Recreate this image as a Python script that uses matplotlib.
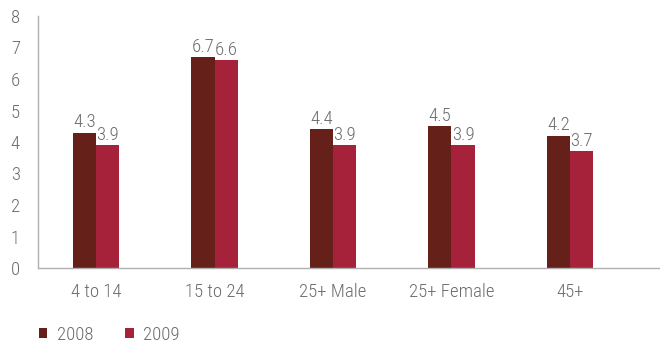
import matplotlib
matplotlib.use("Agg")
import matplotlib.pyplot as plt
import numpy as np

plt.rcParams["font.family"] = ["Roboto Condensed", "DejaVu Sans"]
plt.rcParams["font.weight"] = "light"

categories = ["4 to 14", "15 to 24", "25+ Male", "25+ Female", "45+"]
values_2008 = [4.3, 6.7, 4.4, 4.5, 4.2]
values_2009 = [3.9, 6.6, 3.9, 3.9, 3.7]
series_labels = ["2008", "2009"]

c2008 = "#65201a"
c2009 = "#a6213a"
txt = "#6b6b6b"
fs = 13.5

fig = plt.figure(figsize=(6.6, 3.47), dpi=100)
ax = fig.add_axes([38 / 660, 1 - 268 / 347, 622 / 660, 252 / 347])

x = np.arange(len(categories))
width = 0.195
r1 = ax.bar(x - width / 2, values_2008, width, color=c2008, label=series_labels[0])
r2 = ax.bar(x + width / 2, values_2009, width, color=c2009, label=series_labels[1])

ax.bar_label(r1, fmt="%.1f", padding=1, color=txt, fontsize=fs)
ax.bar_label(r2, fmt="%.1f", padding=1, color=txt, fontsize=fs)

ax.set_ylim(0, 8)
ax.set_xlim(-0.49, 4.76)
ax.set_yticks(range(0, 9))
ax.set_xticks(x, categories)
ax.tick_params(axis="both", length=0, labelsize=fs, colors=txt)
ax.tick_params(axis="x", pad=11)
ax.tick_params(axis="y", pad=13)

for s in ["top", "right"]:
    ax.spines[s].set_visible(False)
for s in ["left", "bottom"]:
    ax.spines[s].set_color("#b0b0b0")
    ax.spines[s].set_linewidth(1)

fig.legend(handles=[r1, r2], labels=series_labels, loc="center left",
           bbox_to_anchor=(39 / 660, 1 - 335 / 347), ncol=2, frameon=False,
           fontsize=fs, labelcolor=txt, handlelength=0.45, handleheight=0.45,
           columnspacing=1.7, handletextpad=0.5, borderpad=0, borderaxespad=0)

fig.savefig("out.png", dpi=100)
